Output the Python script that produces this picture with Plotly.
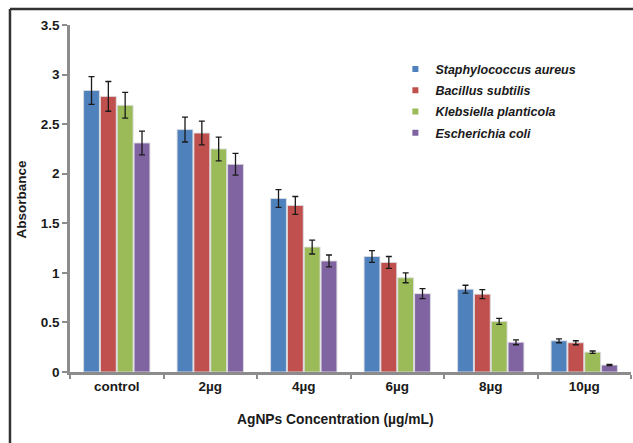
import plotly.graph_objects as go

categories = ["control", "2µg", "4µg", "6µg", "8µg", "10µg"]
series_names = ["Staphylococcus aureus", "Bacillus subtilis",
                "Klebsiella planticola", "Escherichia coli"]
colors = ["#4F81BD", "#C0504D", "#9BBB59", "#8064A2"]

staph = [2.84, 2.445, 1.75, 1.165, 0.835, 0.315]
bacillus = [2.78, 2.41, 1.68, 1.105, 0.785, 0.295]
klebsiella = [2.69, 2.25, 1.26, 0.95, 0.51, 0.20]
ecoli = [2.31, 2.095, 1.12, 0.79, 0.30, 0.07]

staph_err = [0.14, 0.125, 0.09, 0.06, 0.04, 0.02]
bacillus_err = [0.15, 0.12, 0.09, 0.06, 0.045, 0.02]
klebsiella_err = [0.13, 0.12, 0.07, 0.05, 0.03, 0.012]
ecoli_err = [0.12, 0.11, 0.06, 0.05, 0.025, 0.006]

y_ticks = [0, 0.5, 1, 1.5, 2, 2.5, 3, 3.5]
y_tick_labels = ["0", "0.5", "1", "1.5", "2", "2.5", "3", "3.5"]

values = [staph, bacillus, klebsiella, ecoli]
errors = [staph_err, bacillus_err, klebsiella_err, ecoli_err]

FONT = "Liberation Sans, Arial, sans-serif"
TICK_FONT = dict(family=FONT, size=13.5, weight="bold", color="#1a1a1a")

fig = go.Figure()
for i, (name, color, vals, errs) in enumerate(zip(series_names, colors, values, errors)):
    fig.add_trace(go.Bar(
        x=categories, y=vals, name=name,
        marker=dict(color=color, line=dict(color="rgba(220,220,225,0.9)", width=1)),
        error_y=dict(type="data", array=errs, visible=True,
                     color="#1a1a1a", thickness=1.3, width=3),
        showlegend=False,
    ))
    # small square swatch for the legend
    fig.add_trace(go.Scatter(
        x=[None], y=[None], mode="markers", name=name, legendgroup=f"g{i}",
        marker=dict(symbol="square", size=6, color=color),
    ))

fig.update_layout(
    width=633, height=443,
    margin=dict(l=70, r=2, t=25, b=71),
    paper_bgcolor="white", plot_bgcolor="white",
    barmode="group", bargap=0.28, bargroupgap=0.06,
    font=dict(family=FONT, color="#1a1a1a", size=12),
    legend=dict(
        x=0.58, y=0.915, xanchor="left", yanchor="top",
        font=dict(family=FONT, size=12.5, weight="bold", style="italic", color="#1a1a1a"),
        bgcolor="rgba(0,0,0,0)", itemwidth=30, tracegroupgap=2,
    ),
    xaxis=dict(
        showline=True, linecolor="#8c8c8c", linewidth=2.5,
        ticks="outside", tickson="boundaries", ticklen=4, tickwidth=2,
        tickcolor="#8c8c8c", tickfont=TICK_FONT,
        showgrid=False, zeroline=False,
    ),
    yaxis=dict(
        range=[0, 3.5], tickmode="array", tickvals=y_ticks, ticktext=y_tick_labels,
        showline=True, linecolor="#8c8c8c", linewidth=2.5,
        ticks="outside", ticklen=5, tickwidth=2, tickcolor="#8c8c8c",
        tickfont=TICK_FONT,
        showgrid=False, zeroline=False,
    ),
    annotations=[
        dict(text="Absorbance", textangle=-90, xref="paper", yref="paper",
             x=-0.0856, y=0.5, xanchor="center", yanchor="middle", showarrow=False,
             font=dict(family=FONT, size=13.5, weight="bold", color="#1a1a1a")),
        dict(text="AgNPs Concentration (µg/mL)", xref="paper", yref="paper",
             x=0.474, y=-0.138, xanchor="center", yanchor="middle", showarrow=False,
             font=dict(family=FONT, size=13.8, weight="bold", color="#1a1a1a")),
    ],
    shapes=[
        dict(type="line", xref="paper", yref="paper",
             x0=-0.107, x1=1.01, y0=1.046, y1=1.046,
             line=dict(color="#333333", width=2.5)),
        dict(type="line", xref="paper", yref="paper",
             x0=-0.107, x1=-0.107, y0=1.046, y1=-0.3,
             line=dict(color="#333333", width=2.5)),
    ],
)

fig.write_html("out.html")
